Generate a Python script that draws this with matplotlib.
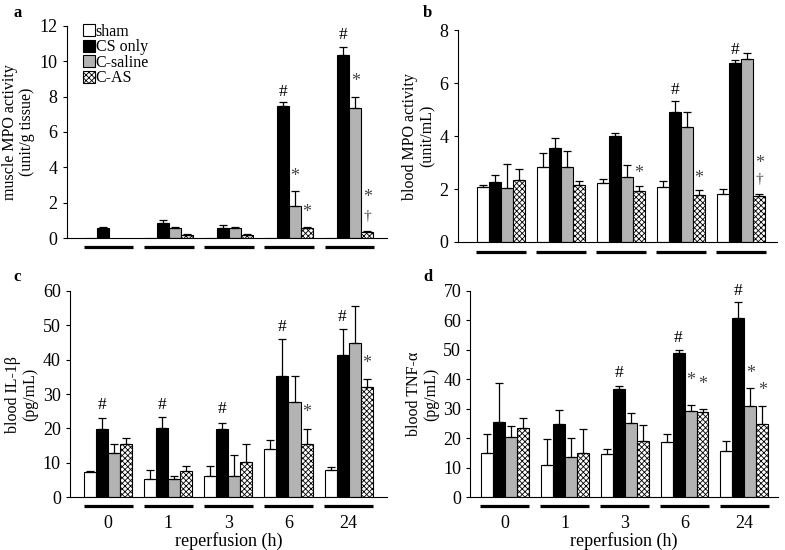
import numpy as np
import matplotlib.pyplot as plt
from matplotlib.patches import Patch

plt.rcParams['font.family'] = ['Liberation Serif', 'DejaVu Serif']
plt.rcParams['hatch.linewidth'] = 0.6

hours = ['0', '1', '3', '6', '24']
groups = ['sham', 'CS only', 'C-saline', 'C-AS']
colors = ['white', 'black', '#b3b3b3', 'white']
hatches = [None, None, None, 'xxxxxx']

# panel a: muscle MPO activity (unit/g tissue)
a_mean = [[0.03, 0.03, 0.03, 0.03, 0.03],
          [0.6, 0.83, 0.55, 7.46, 10.36],
          [0.0, 0.55, 0.6, 1.79, 7.33],
          [0.0, 0.18, 0.2, 0.55, 0.37]]
a_err = [[0.0, 0.0, 0.0, 0.0, 0.0],
         [0.05, 0.22, 0.17, 0.24, 0.44],
         [0.0, 0.1, 0.05, 0.86, 0.66],
         [0.0, 0.04, 0.03, 0.1, 0.05]]
a_marks = [(3, 1, 8.27, '#'), (4, 1, 11.47, '#'), (3, 2, 3.48, '*'), (3, 3, 1.47, '*'),
           (4, 2, 8.83, '*'), (4, 3, 2.29, '*'), (4, 3, 1.22, '†')]

# panel b: blood MPO activity (unit/mL)
b_mean = [[2.06, 2.85, 2.22, 2.07, 1.83],
          [2.27, 3.57, 4.0, 4.9, 6.75],
          [2.04, 2.85, 2.47, 4.36, 6.9],
          [2.35, 2.16, 1.93, 1.77, 1.72]]
b_err = [[0.1, 0.53, 0.16, 0.22, 0.17],
         [0.27, 0.35, 0.1, 0.43, 0.12],
         [0.9, 0.6, 0.44, 0.54, 0.25],
         [0.39, 0.14, 0.17, 0.18, 0.08]]
b_marks = [(2, 3, 2.6, '*'), (3, 1, 5.74, '#'), (3, 3, 2.41, '*'),
           (4, 1, 7.27, '#'), (4, 3, 2.98, '*'), (4, 3, 2.35, '†')]

# panel c: blood IL-1beta (pg/mL)
c_mean = [[7.3, 5.35, 6.3, 14.1, 7.8],
          [19.9, 20.2, 19.8, 35.2, 41.5],
          [13.0, 5.3, 6.3, 27.8, 44.9],
          [15.5, 7.5, 10.3, 15.6, 32.1]]
c_err = [[0.3, 2.6, 2.9, 2.6, 0.9],
         [3.1, 3.1, 1.9, 10.7, 7.5],
         [2.6, 1.0, 6.0, 7.6, 10.7],
         [1.7, 1.7, 5.3, 4.2, 2.4]]
c_marks = [(0, 1, 26.75, '#'), (1, 1, 26.75, '#'), (2, 1, 25.8, '#'), (3, 1, 49.6, '#'),
           (4, 1, 52.5, '#'), (3, 3, 24.5, '*'), (4, 3, 38.9, '*')]

# panel d: blood TNF-alpha (pg/mL)
d_mean = [[15.0, 11.0, 14.5, 18.9, 15.7],
          [25.6, 25.0, 36.8, 49.0, 60.7],
          [20.3, 13.5, 25.3, 29.2, 31.1],
          [23.5, 15.0, 19.0, 29.0, 24.7]]
d_err = [[6.3, 8.6, 2.0, 2.4, 3.3],
         [13.2, 4.6, 0.9, 0.9, 5.4],
         [4.0, 6.6, 3.3, 2.1, 6.1],
         [3.5, 8.2, 5.6, 1.1, 6.4]]
d_marks = [(2, 1, 42.0, '#'), (3, 1, 53.9, '#'), (4, 1, 70.1, '#'), (3, 2, 39.7, '*'),
           (3, 3, 38.25, '*'), (4, 2, 42.0, '*'), (4, 3, 36.3, '*')]

fig = plt.figure(figsize=(7.85, 5.5), dpi=100)

panels = [
    ('a', (0.017, 0.976), [0.085, 0.567, 0.408, 0.386], a_mean, a_err, a_marks, 12, 2,
     'muscle MPO activity\n(unit/g tissue)', (-0.7, 4.63), False, -0.042),
    ('b', (0.538, 0.976), [0.583, 0.56, 0.407, 0.385], b_mean, b_err, b_marks, 8, 2,
     'blood MPO activity\n(unit/mL)', (-0.72, 4.6), False, -0.047),
    ('c', (0.017, 0.496), [0.089, 0.096, 0.404, 0.375], c_mean, c_err, c_marks, 60, 10,
     'blood IL-1β\n(pg/mL)', (-0.64, 4.64), True, -0.044),
    ('d', (0.539, 0.496), [0.599, 0.096, 0.392, 0.375], d_mean, d_err, d_marks, 70, 10,
     'blood TNF-α\n(pg/mL)', (-0.58, 4.56), True, -0.044),
]

x = np.arange(len(hours))
w = 0.2
offsets = (np.arange(4) - 1.5) * w

for letter, lpos, rect, mean, err, marks, ymax, step, ylab, xl, show_x, uy in panels:
    ax = fig.add_axes(rect)
    for i in range(4):
        m = np.array(mean[i])
        e = np.array(err[i])
        keep = m > 0
        ax.bar(x[keep] + offsets[i], m[keep], w, color=colors[i], edgecolor='black',
               linewidth=0.8, hatch=hatches[i], label=groups[i], zorder=2)
        ek = keep & (e > 0)
        ax.errorbar(x[ek] + offsets[i], m[ek], yerr=[np.zeros(ek.sum()), e[ek]],
                    fmt='none', ecolor='black', elinewidth=0.9, capsize=3, capthick=0.9,
                    zorder=3)
    for g, s, yv, sym in marks:
        col = 'black' if sym == '#' else '#444444'
        fs = 12.5 if sym == '#' else 13
        if sym == '†':
            fs = 11
        ax.text(x[g] + offsets[s], yv, sym, ha='center', va='center', fontsize=fs, color=col)
    ax.set_ylim(0, ymax)
    ax.set_yticks(np.arange(0, ymax + 0.01, step))
    ax.set_xlim(*xl)
    ax.set_ylabel(ylab, fontsize=11.5, linespacing=1.1, labelpad=3)
    ax.spines['top'].set_visible(False)
    ax.spines['right'].set_visible(False)
    ax.tick_params(axis='y', direction='out', length=3, labelsize=13)
    ax.tick_params(axis='x', length=0)
    if show_x:
        ax.set_xticks(x, hours)
        ax.tick_params(axis='x', labelsize=13, pad=13)
        ax.set_xlabel('reperfusion (h)', fontsize=13, labelpad=0)
    else:
        ax.set_xticks([])
    for xi in x:
        ax.plot([xi - 0.41, xi + 0.41], [uy, uy], color='black', lw=2.3,
                transform=ax.get_xaxis_transform(), clip_on=False, solid_capstyle='butt')
    fig.text(lpos[0], lpos[1], letter, fontsize=12, fontweight='bold', ha='left', va='center')
    if letter == 'a':
        handles = [Patch(facecolor=colors[i], edgecolor='black', hatch=hatches[i], lw=0.8)
                   for i in range(4)]
        ax.legend(handles, groups, loc='upper left', bbox_to_anchor=(0.03, 1.04),
                  frameon=False, fontsize=11.5, handlelength=0.75, handleheight=0.75,
                  handletextpad=0.05, labelspacing=-0.03, borderaxespad=0)

fig.savefig('out.png', dpi=100)
